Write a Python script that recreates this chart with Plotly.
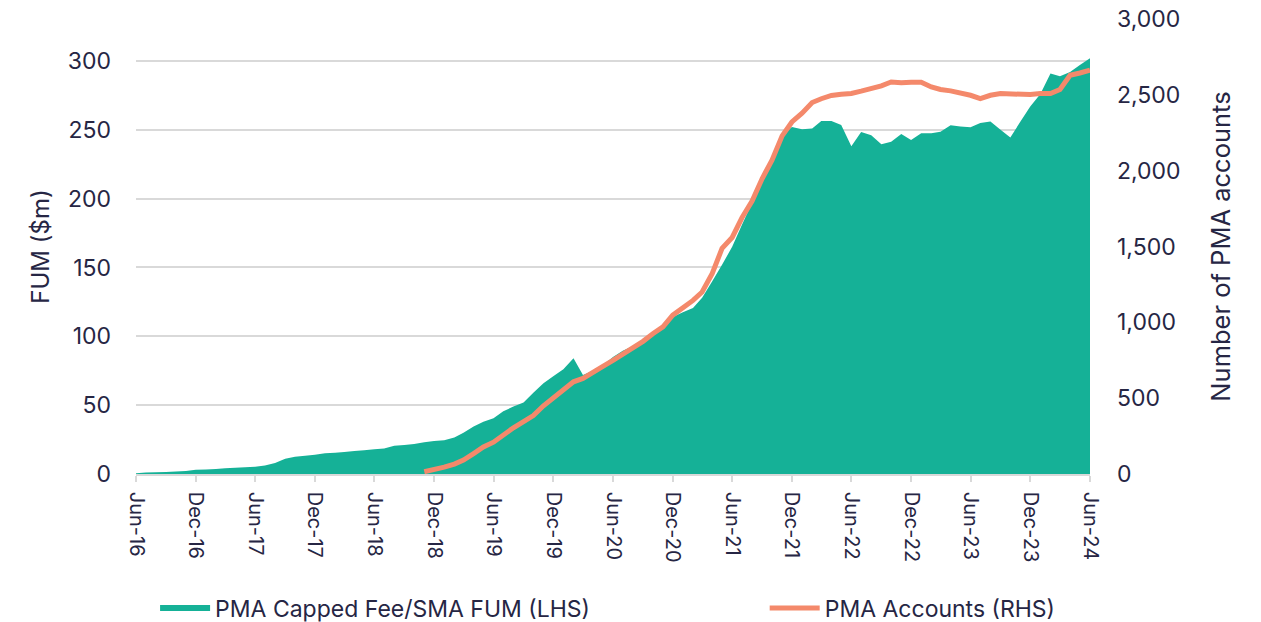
import pandas as pd
import plotly.graph_objects as go

# Monthly categories Jun-16 .. Jun-24
months = pd.date_range("2016-06-01", "2024-06-01", freq="MS")

# PMA Capped Fee/SMA FUM ($m), LHS, one value per month from Jun-16
fum = [0.5, 1.0, 1.3, 1.5, 1.8, 2.2, 3.0, 3.2, 3.6, 4.2, 4.5, 4.9,
       5.3, 6.2, 8.0, 11.0, 12.5, 13.3, 14.0, 15.0, 15.5, 16.0, 16.7, 17.3,
       18.0, 18.5, 20.5, 21.0, 21.8, 23.0, 24.0, 24.5, 26.5, 30.0, 34.5, 38.0,
       40.5, 45.5, 49.0, 52.0, 59.0, 66.0, 71.0, 76.0, 84.0, 72.0, 75.0, 79.0,
       85.0, 89.5, 93.0, 96.5, 101.0, 106.0, 114.0, 117.5, 120.5, 128.0, 140.0, 152.0,
       165.0, 181.0, 197.0, 214.0, 230.0, 246.0, 252.0, 250.5, 251.0, 256.5, 256.5, 253.5,
       238.0, 248.5, 246.0, 239.5, 241.3, 247.0, 242.6, 247.5, 247.5, 248.6, 253.4, 252.5,
       251.8, 255.0, 256.0, 250.0, 244.5, 256.0, 267.0, 276.0, 291.0, 289.0, 292.0, 297.0,
       302.0]

# PMA Accounts (RHS), starting Nov-18
acc_months = months[29:]
accounts = [15, 28, 45, 65, 92, 135, 178, 210, 260, 305, 345, 385,
            450, 505, 555, 608, 630, 674, 710, 750, 790, 830, 875, 925,
            971, 1048, 1095, 1145, 1200, 1323, 1488, 1560, 1690, 1800, 1949, 2070,
            2230, 2322, 2380, 2450, 2475, 2497, 2505, 2510, 2525, 2540, 2560, 2586,
            2580, 2584, 2584, 2553, 2536, 2527, 2514, 2498, 2476, 2498, 2509, 2505,
            2509, 2503, 2509, 2509, 2536, 2630, 2645, 2663]

left_ticks = [0, 50, 100, 150, 200, 250, 300]
right_ticks = [0, 500, 1000, 1500, 2000, 2500, 3000]

TEXT = "#262644"
GRID = "#d9d9d9"
FONT = "Inter"

fig = go.Figure()
fig.add_trace(go.Scatter(
    x=months, y=fum, name="PMA Capped Fee/SMA FUM (LHS)",
    mode="none", fill="tozeroy", fillcolor="#15b197",
    hoverinfo="x+y", legend="legend"))
fig.add_trace(go.Scatter(
    x=acc_months, y=accounts, name="PMA Accounts (RHS)", yaxis="y2",
    mode="lines", line=dict(color="#f4896b", width=5), legend="legend2"))

legend_common = dict(orientation="h", y=-0.2945, yanchor="middle",
                     xanchor="left", font=dict(size=23, color=TEXT, family=FONT),
                     itemwidth=50, bgcolor="rgba(0,0,0,0)")

fig.update_layout(
    width=1261, height=622,
    margin=dict(l=136, r=171, t=19, b=148, autoexpand=False),
    paper_bgcolor="white", plot_bgcolor="white",
    font=dict(family=FONT, color=TEXT, size=20),
    showlegend=True,
    legend=dict(x=0.02, **legend_common),
    legend2=dict(x=0.659, **legend_common),
    xaxis=dict(type="date", range=[months[0], months[-1]],
               tick0="2016-06-01", dtick="M6", tickformat="%b-%y",
               tickangle=90, showgrid=False, showline=True, linecolor=GRID, linewidth=1.5,
               ticks="outside", ticklen=6, tickcolor=GRID, tickwidth=1.5,
               tickfont=dict(size=20, color=TEXT), ticklabelstandoff=6),
    yaxis=dict(range=[0, 330.5], tickvals=left_ticks, showgrid=True, gridcolor=GRID,
               gridwidth=1.5, zeroline=False, showline=False, ticks="",
               tickfont=dict(size=23, color=TEXT), ticklabelstandoff=24,
               title=dict(text="FUM ($m)", font=dict(size=24, color=TEXT), standoff=11)),
    yaxis2=dict(range=[0, 3001], tickvals=right_ticks, overlaying="y", side="right",
                showgrid=False, zeroline=False, showline=False, ticks="",
                tickformat=",", tickfont=dict(size=23, color=TEXT), ticklabelstandoff=26,
                title=dict(text="Number of PMA accounts", font=dict(size=25.5, color=TEXT),
                           standoff=32)),
)

fig.write_html("out.html", config={"displayModeBar": False},
               post_script="document.body.style.margin='0';")
